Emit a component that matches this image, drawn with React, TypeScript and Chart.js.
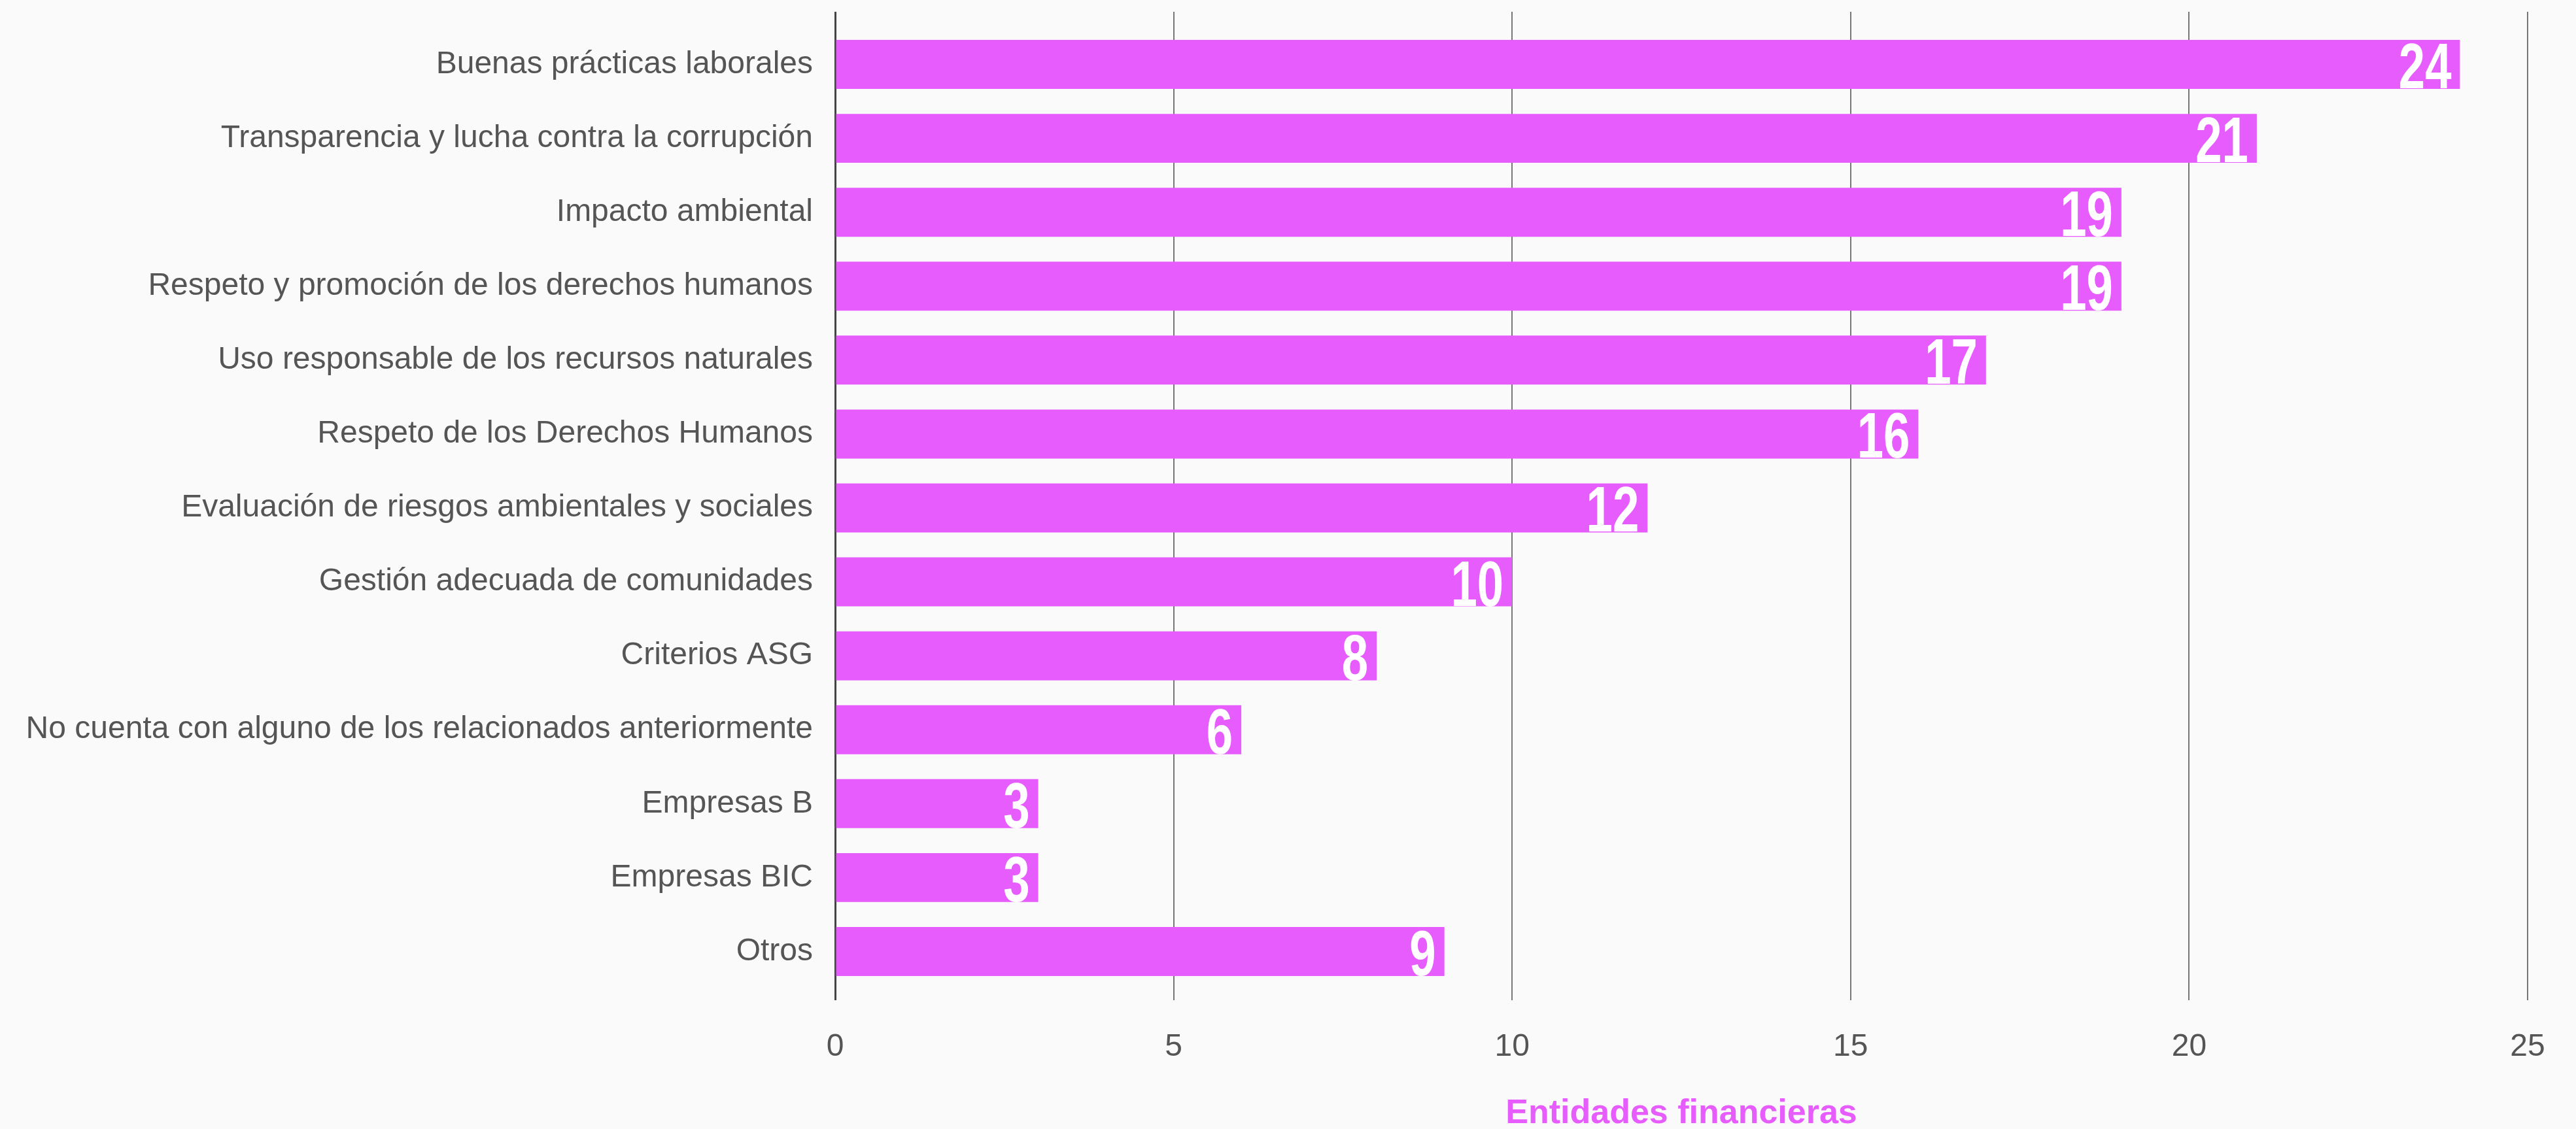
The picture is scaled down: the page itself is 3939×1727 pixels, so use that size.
import React, { useEffect, useRef } from "react";
import { Chart, registerables } from "chart.js";

Chart.register(...registerables);

const categories: string[] = [
  "Buenas prácticas laborales",
  "Transparencia y lucha contra la corrupción",
  "Impacto ambiental",
  "Respeto y promoción de los derechos humanos",
  "Uso responsable de los recursos naturales",
  "Respeto de los Derechos Humanos",
  "Evaluación de riesgos ambientales y sociales",
  "Gestión adecuada de comunidades",
  "Criterios ASG",
  "No cuenta con alguno de los relacionados anteriormente",
  "Empresas B",
  "Empresas BIC",
  "Otros",
];

const values: number[] = [24, 21, 19, 19, 17, 16, 12, 10, 8, 6, 3, 3, 9];

const xAxisTitle = "Entidades financieras";
const xMin = 0;
const xMax = 25;
const xStep = 5;

const PINK = "#e65cfd";
const TEXT = "#555555";

const valueLabelPlugin = {
  id: "valueLabels",
  afterDatasetsDraw(chart: any) {
    const ctx = chart.ctx;
    const meta = chart.getDatasetMeta(0);
    ctx.save();
    ctx.fillStyle = "#ffffff";
    ctx.font = "bold 98px 'Liberation Sans', Arial, sans-serif";
    ctx.textAlign = "right";
    ctx.textBaseline = "alphabetic";
    meta.data.forEach((bar: any, i: number) => {
      const v = chart.data.datasets[0].data[i];
      const half = bar.height / 2;
      ctx.save();
      ctx.translate(bar.x - 13, bar.y + half - 1);
      ctx.scale(0.74, 1);
      ctx.fillText(String(v), 0, 0);
      ctx.restore();
    });
    ctx.restore();
  },
};

export default function App() {
  const canvasRef = useRef<HTMLCanvasElement | null>(null);

  useEffect(() => {
    document.body.style.background = "#fafafa";
    const canvas = canvasRef.current;
    if (!canvas) return;
    const gridColor = (c: any) => (c.tick && c.tick.value === 0 ? "#444444" : "#777777");
    const gridWidth = (c: any) => (c.tick && c.tick.value === 0 ? 3 : 2);
    const chart = new Chart(canvas, {
      type: "bar",
      data: {
        labels: categories,
        datasets: [
          {
            data: values,
            backgroundColor: PINK,
            borderWidth: 0,
            categoryPercentage: 1,
            barPercentage: 0.663,
            xAxisID: "x",
          },
        ],
      },
      options: {
        indexAxis: "y",
        animation: false,
        responsive: true,
        maintainAspectRatio: false,
        layout: { padding: { left: 0, right: 66, top: 0, bottom: 0 } },
        plugins: {
          legend: { display: false },
          tooltip: { enabled: false },
        },
        scales: {
          x: {
            type: "linear",
            position: "bottom",
            min: xMin,
            max: xMax,
            border: { display: false },
            grid: {
              color: gridColor,
              lineWidth: gridWidth,
              drawTicks: true,
              tickLength: 18,
            },
            ticks: {
              stepSize: xStep,
              padding: 43,
              color: TEXT,
              font: { family: "'Liberation Sans', Arial, sans-serif", size: 48 },
            },
            title: {
              display: true,
              text: xAxisTitle,
              color: PINK,
              padding: { top: 0, bottom: -16 },
              font: { family: "'Liberation Sans', Arial, sans-serif", size: 52, weight: "bold" },
            },
            afterFit: (scale: any) => {
              scale.height = 207;
              scale.paddingLeft = 0;
              scale.paddingRight = 0;
            },
          },
          x2: {
            type: "linear",
            position: "top",
            min: xMin,
            max: xMax,
            border: { display: false },
            grid: {
              color: gridColor,
              lineWidth: gridWidth,
              drawOnChartArea: false,
              drawTicks: true,
              tickLength: 24,
            },
            ticks: { display: false, stepSize: xStep },
            afterFit: (scale: any) => {
              scale.height = 34;
              scale.paddingLeft = 0;
              scale.paddingRight = 0;
            },
          },
          y: {
            type: "category",
            border: { display: false },
            grid: { display: false, drawTicks: false },
            ticks: {
              padding: 34,
              color: TEXT,
              font: { family: "'Liberation Sans', Arial, sans-serif", size: 48 },
            },
            afterFit: (scale: any) => {
              scale.width = 1269;
              scale.paddingTop = 0;
              scale.paddingBottom = 0;
            },
          },
        },
      },
      plugins: [valueLabelPlugin],
    } as any);
    return () => {
      chart.destroy();
    };
  }, []);

  return (
    <div style={{ position: "relative", width: "100%", height: "1711px" }}>
      <canvas ref={canvasRef} />
    </div>
  );
}
